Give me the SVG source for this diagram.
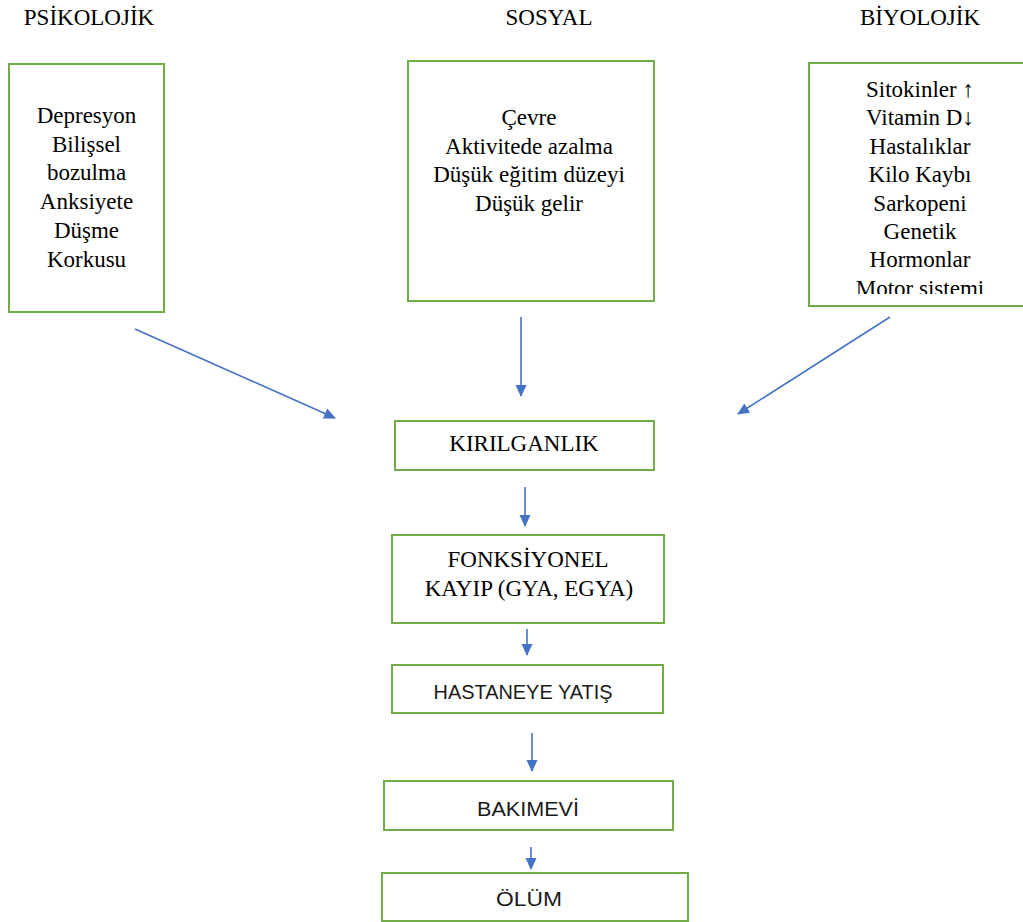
<svg xmlns="http://www.w3.org/2000/svg" width="1023" height="922" viewBox="0 0 1023 922">
<style>
.box{fill:#ffffff;stroke:#70AD47;stroke-width:2}
.conn{stroke:#4472C4;stroke-width:1.6;fill:none;marker-end:url(#ah)}
</style>
<defs>
<marker id="ah" markerUnits="userSpaceOnUse" markerWidth="12" markerHeight="12" viewBox="0 0 12 12" refX="11" refY="6" orient="auto">
<path d="M0,0.5 L12,6 L0,11.5 Z" fill="#4472C4"/>
</marker>
<clipPath id="bioclip"><rect x="809" y="63" width="214" height="231"/></clipPath>
</defs>
<rect width="1023" height="922" fill="#ffffff"/>

<g font-family="'Liberation Serif', 'Times New Roman', serif" font-size="23" fill="#000000" text-anchor="middle">
<g id="heading-psikolojik"><text x="89" y="25">PSİKOLOJİK</text></g>
<g id="heading-sosyal"><text x="549" y="25">SOSYAL</text></g>
<g id="heading-biyolojik"><text x="920" y="25">BİYOLOJİK</text></g>

<g id="node-psikolojik">
<rect class="box" x="9" y="64" width="155" height="248"/>
<text x="86.5" y="123">Depresyon</text>
<text x="86.5" y="151.7">Bilişsel</text>
<text x="86.5" y="180.4">bozulma</text>
<text x="86.5" y="209">Anksiyete</text>
<text x="86.5" y="237.8">Düşme</text>
<text x="86.5" y="266.5">Korkusu</text>
</g>

<g id="node-sosyal">
<rect class="box" x="408" y="61" width="246" height="240"/>
<text x="529" y="125">Çevre</text>
<text x="529" y="153.5">Aktivitede azalma</text>
<text x="529" y="182">Düşük eğitim düzeyi</text>
<text x="529" y="210.5">Düşük gelir</text>
</g>

<g id="node-biyolojik">
<rect class="box" x="809" y="63" width="230" height="243"/>
<g clip-path="url(#bioclip)">
<text x="920" y="97">Sitokinler ↑</text>
<text x="920" y="125.4">Vitamin D↓</text>
<text x="920" y="153.8">Hastalıklar</text>
<text x="920" y="182.2">Kilo Kaybı</text>
<text x="920" y="210.6">Sarkopeni</text>
<text x="920" y="239">Genetik</text>
<text x="920" y="267.4">Hormonlar</text>
<text x="920" y="295.8">Motor sistemi</text>
</g>
</g>

<g id="node-kirilganlik">
<rect class="box" x="395" y="421" width="259" height="49"/>
<text x="524" y="451">KIRILGANLIK</text>
</g>

<g id="node-fonksiyonel">
<rect class="box" x="392" y="535" width="272" height="88"/>
<text x="528" y="567">FONKSİYONEL</text>
<text x="529" y="596">KAYIP (GYA, EGYA)</text>
</g>
</g>

<g font-family="'Liberation Sans', Arial, sans-serif" font-size="20" fill="#1a1a1a" text-anchor="middle">
<g id="node-hastaneye">
<rect class="box" x="392" y="665" width="271" height="48"/>
<text x="523" y="699" textLength="179" lengthAdjust="spacingAndGlyphs">HASTANEYE YATIŞ</text>
</g>

<g id="node-bakimevi">
<rect class="box" x="384" y="781" width="289" height="49"/>
<text x="528" y="816" textLength="102" lengthAdjust="spacingAndGlyphs">BAKIMEVİ</text>
</g>

<g id="node-olum">
<rect class="box" x="382" y="873" width="306" height="48"/>
<text x="529" y="906" textLength="66" lengthAdjust="spacingAndGlyphs">ÖLÜM</text>
</g>
</g>

<g id="connectors">
<line class="conn" x1="135" y1="329" x2="335" y2="418"/>
<line class="conn" x1="521" y1="317" x2="521" y2="396"/>
<line class="conn" x1="890" y1="317" x2="738" y2="414"/>
<line class="conn" x1="525" y1="487" x2="525" y2="526"/>
<line class="conn" x1="527" y1="629" x2="527" y2="655"/>
<line class="conn" x1="532" y1="733" x2="532" y2="771"/>
<line class="conn" x1="531" y1="847" x2="531" y2="869"/>
</g>
</svg>
